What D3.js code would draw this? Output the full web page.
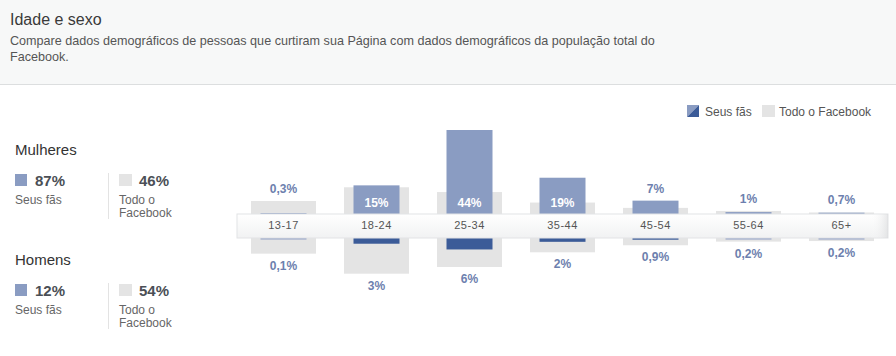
<!DOCTYPE html>
<html><head><meta charset="utf-8">
<script src="https://cdn.jsdelivr.net/npm/d3@7/dist/d3.min.js"></script>
<style>
html,body{margin:0;padding:0;background:#fff;}
svg{display:block;font-family:"Liberation Sans",Arial,sans-serif;}
</style></head><body>
<svg id="c" width="896" height="356"></svg>
<script>
const categories = ["13-17","18-24","25-34","35-44","45-54","55-64","65+"];
const fansWomen = [0.3, 15, 44, 19, 7, 1, 0.7];
const fansMen = [0.1, 3, 6, 2, 0.9, 0.2, 0.2];
const fbWomen = [6.8, 14, 11.5, 6, 3.2, 1.6, 0.8];
const fbMen = [8.2, 18.7, 15.2, 7.5, 3.8, 1.9, 1.6];
const fansWomenLabels = ["0,3%","15%","44%","19%","7%","1%","0,7%"];
const fansMenLabels = ["0,1%","3%","6%","2%","0,9%","0,2%","0,2%"];
const summaryGroups = ["Mulheres","Homens"];
const summaryFans = ["87%","12%"];
const summaryFb = ["46%","54%"];

const svg = d3.select("#c");
const C = {light:"#8a9cc2", dark:"#3b5b98", grey:"#e4e4e4", label:"#6d7fae", text:"#333"};

// header
svg.append("rect").attr("x",0).attr("y",0).attr("width",896).attr("height",84).attr("fill","#f7f8f8");
svg.append("line").attr("x1",0).attr("x2",896).attr("y1",84.5).attr("y2",84.5).attr("stroke","#dcdedf");
svg.append("text").attr("x",10).attr("y",25).attr("font-size",16).attr("fill","#3a3a3a").text("Idade e sexo");
svg.append("text").attr("x",10).attr("y",45).attr("font-size",12.6).attr("fill","#555").text("Compare dados demográficos de pessoas que curtiram sua Página com dados demográficos da população total do");
svg.append("text").attr("x",10).attr("y",61).attr("font-size",12.6).attr("fill","#555").text("Facebook.");

// left summary
summaryGroups.forEach((g,i)=>{
  const y0 = 110*i;
  const G = svg.append("g").attr("transform",`translate(0,${y0})`);
  G.append("text").attr("x",15).attr("y",155).attr("font-size",15).attr("fill","#333").text(g);
  G.append("rect").attr("x",15).attr("y",174).attr("width",12).attr("height",12).attr("fill",C.light);
  G.append("text").attr("x",35).attr("y",186).attr("font-size",15).attr("font-weight","bold").attr("fill","#4b4f56").text(summaryFans[i]);
  G.append("text").attr("x",15).attr("y",204).attr("font-size",12).attr("fill","#666").text("Seus fãs");
  G.append("line").attr("x1",108.5).attr("x2",108.5).attr("y1",173).attr("y2",219).attr("stroke","#e3e3e3");
  G.append("rect").attr("x",119).attr("y",174).attr("width",13).attr("height",12).attr("fill",C.grey);
  G.append("text").attr("x",139).attr("y",186).attr("font-size",15).attr("font-weight","bold").attr("fill","#4b4f56").text(summaryFb[i]);
  G.append("text").attr("x",119).attr("y",204).attr("font-size",12).attr("fill","#666").text("Todo o");
  G.append("text").attr("x",119).attr("y",217).attr("font-size",12).attr("fill","#666").text("Facebook");
});

// legend
const defs = svg.append("defs");
const lg = svg.append("g");
lg.append("polygon").attr("points","687,117 699,105 687,105").attr("fill",C.light);
lg.append("polygon").attr("points","687,117 699,105 699,117").attr("fill",C.dark);
lg.append("text").attr("x",705).attr("y",116).attr("font-size",12).attr("fill","#555").text("Seus fãs");
lg.append("rect").attr("x",762).attr("y",105).attr("width",13).attr("height",12).attr("fill",C.grey);
lg.append("text").attr("x",779).attr("y",116).attr("font-size",12).attr("fill","#555").text("Todo o Facebook");

// chart
const stripTop = 214, stripBot = 238;
const x = d3.scaleBand().domain(categories).range([237, 888]).paddingInner(0.3).paddingOuter(0.15);
const h = d3.scaleLinear().domain([0, 44]).range([0, 84]);
const gw = 65, bw = 46;
const cx = c => x(c) + x.bandwidth()/2;

const g = svg.append("g");
// grey bars
g.selectAll(".fw").data(categories).join("rect")
  .attr("x",c=>cx(c)-gw/2).attr("width",gw)
  .attr("y",(c,i)=>stripTop-h(fbWomen[i])).attr("height",(c,i)=>h(fbWomen[i])+2).attr("fill",C.grey);
g.selectAll(".fm").data(categories).join("rect")
  .attr("x",c=>cx(c)-gw/2).attr("width",gw)
  .attr("y",stripBot-2).attr("height",(c,i)=>h(fbMen[i])+2).attr("fill",C.grey);
// fans bars
g.selectAll(".bw").data(categories).join("rect")
  .attr("x",c=>cx(c)-bw/2).attr("width",bw)
  .attr("y",(c,i)=>stripTop-Math.max(1,h(fansWomen[i]))).attr("height",(c,i)=>Math.max(1,h(fansWomen[i]))+2).attr("fill",C.light);
g.selectAll(".bm").data(categories).join("rect")
  .attr("x",c=>cx(c)-bw/2).attr("width",bw)
  .attr("y",stripBot-2).attr("height",(c,i)=>Math.max(1.5,h(fansMen[i]))+2).attr("fill",(c,i)=>fansMen[i]<0.5?"#8f9ec4":C.dark);

// strip
const grad = defs.append("linearGradient").attr("id","sg").attr("x1",0).attr("x2",0).attr("y1",0).attr("y2",1);
grad.append("stop").attr("offset","0%").attr("stop-color","#ffffff");
grad.append("stop").attr("offset","100%").attr("stop-color","#f1f2f3");
const hg = defs.append("linearGradient").attr("id","hg").attr("x1",0).attr("x2",1).attr("y1",0).attr("y2",0);
hg.append("stop").attr("offset","0%").attr("stop-color","#fff").attr("stop-opacity",0);
hg.append("stop").attr("offset","100%").attr("stop-color","#d8d9db").attr("stop-opacity",1);
g.append("rect").attr("x",237).attr("y",stripTop).attr("width",651).attr("height",stripBot-stripTop)
  .attr("fill","url(#sg)").attr("stroke","#e2e3e5").attr("stroke-width",1);
g.append("rect").attr("x",870).attr("y",stripTop).attr("width",18).attr("height",stripBot-stripTop).attr("fill","url(#hg)").attr("opacity",0.6);

const axis = d3.axisBottom(x).tickSize(0).tickPadding(0);
const ax = g.append("g").attr("transform",`translate(0,${stripTop+7})`).call(axis);
ax.select(".domain").remove();
ax.selectAll("text").attr("font-size",11).attr("fill","#555").attr("font-family","Liberation Sans, Arial, sans-serif").attr("dy","0.71em").attr("letter-spacing",0.5);

// labels
g.selectAll(".lw").data(categories).join("text")
  .attr("x",cx).attr("text-anchor","middle").attr("font-size",12).attr("font-weight","bold")
  .attr("fill",(c,i)=>h(fansWomen[i])>24?"#fff":C.label)
  .attr("y",(c,i)=>{
    if(h(fansWomen[i])>24) return stripTop-7;
    const top = stripTop-Math.max(h(fansWomen[i]),h(fbWomen[i]));
    return top-8;
  })
  .text((c,i)=>fansWomenLabels[i]);
g.selectAll(".lm").data(categories).join("text")
  .attr("x",cx).attr("text-anchor","middle").attr("font-size",12).attr("font-weight","bold").attr("fill",C.label)
  .attr("y",(c,i)=>stripBot+Math.max(h(fansMen[i]),h(fbMen[i]))+16)
  .text((c,i)=>fansMenLabels[i]);
</script></body></html>
